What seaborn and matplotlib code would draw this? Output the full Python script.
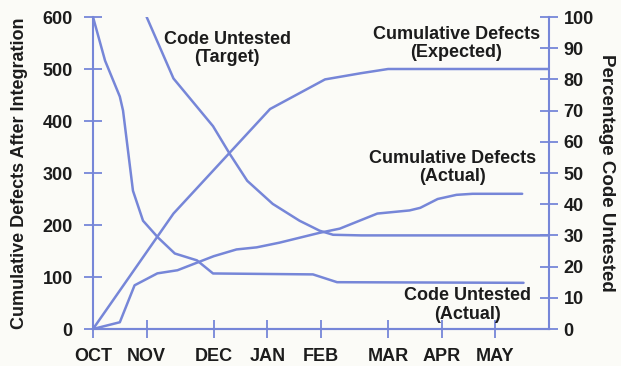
import numpy as np
import pandas as pd
import matplotlib
matplotlib.use('Agg')
import matplotlib.pyplot as plt
import seaborn as sns

# 데이터 (x축은 10월 시작부터의 주 단위)
month_labels = ['OCT', 'NOV', 'DEC', 'JAN', 'FEB', 'MAR', 'APR', 'MAY']
month_weeks = [0, 4, 9, 13, 17, 22, 26, 30]

# 누적 결함 (예상) - 왼쪽 축
expected_wk = [0, 6.0, 13.2, 17.3, 20.0, 22.0, 34]
expected_val = [0, 222, 423, 480, 492, 500, 500]

# 누적 결함 (실제) - 왼쪽 축
actual_wk = [0, 2.0, 3.1, 4.8, 6.3, 7.8, 9.0, 10.7, 12.2, 13.9, 16.9, 18.4,
             21.2, 23.6, 24.4, 25.7, 27.1, 28.3, 32.0]
actual_val = [0, 13, 84, 107, 113, 128, 140, 153, 157, 166, 185, 193,
              222, 228, 233, 250, 258, 260, 260]

# 미검증 코드 비율 (실제) - 오른쪽 축
cu_actual_wk = [0, 0.9, 2.0, 2.24, 2.98, 3.73, 4.85, 6.1, 7.75, 8.95, 16.4, 18.2, 32.1]
cu_actual_pct = [100, 86, 74.5, 70, 44.3, 34.7, 29.3, 24.2, 22, 17.8, 17.5, 15, 14.8]

# 미검증 코드 비율 (목표) - 오른쪽 축
cu_target_wk = [4.0, 6.0, 8.95, 10.2, 11.5, 13.4, 15.4, 16.9, 17.9, 20, 34]
cu_target_pct = [100, 80.3, 65.0, 56.1, 47.5, 40.1, 34.7, 31.5, 30.2, 30, 30]

# 스타일
sns.set_style('ticks')
plt.rcParams['font.family'] = ['Liberation Sans', 'DejaVu Sans']

blue = '#7686d8'
ink = '#1c1c1c'
bg = '#fbfbf7'
lw = 1.8

fig = plt.figure(figsize=(6.21, 3.66), dpi=100, facecolor=bg)
ax = fig.add_axes([93 / 621, 37 / 366, 456 / 621, 312 / 366])
ax.set_facecolor(bg)
ax2 = ax.twinx()

sns.lineplot(x=expected_wk, y=expected_val, ax=ax, color=blue, linewidth=lw)
sns.lineplot(x=actual_wk, y=actual_val, ax=ax, color=blue, linewidth=lw)
sns.lineplot(x=cu_actual_wk, y=cu_actual_pct, ax=ax2, color=blue, linewidth=lw)
sns.lineplot(x=cu_target_wk, y=cu_target_pct, ax=ax2, color=blue, linewidth=lw)

ax.set_xlim(0, 34)
ax.set_ylim(0, 600)
ax2.set_ylim(0, 100)

ax.set_xticks(month_weeks)
ax.set_xticklabels(month_labels)
ax.set_yticks(range(0, 601, 100))
ax2.set_yticks(range(0, 101, 10))

for a in (ax, ax2):
    a.spines['top'].set_visible(False)
    for s in ('left', 'right', 'bottom'):
        a.spines[s].set_color(blue)
        a.spines[s].set_linewidth(1.5)
    a.tick_params(direction='inout', length=13, width=1.3, color=blue,
                  labelsize=13, labelcolor=ink, pad=3)
    for lbl in a.get_xticklabels() + a.get_yticklabels():
        lbl.set_fontweight('bold')
ax.spines['right'].set_visible(False)
ax2.spines['left'].set_visible(False)
ax.tick_params(axis='y', pad=8)
ax.tick_params(axis='x', pad=7)
ax2.tick_params(axis='y', pad=4)

ax.set_xlabel('')
ax.set_ylabel('Cumulative Defects After Integration', fontsize=13,
              fontweight='bold', color=ink)
ax.yaxis.set_label_coords(-0.142, 0.5)
ax2.set_ylabel('Percentage Code Untested', fontsize=13.5, fontweight='bold',
               color=ink, rotation=270, va='center')
ax2.yaxis.set_label_coords(1.127, 0.5)

# 곡선 이름 표시
txt = dict(ha='center', va='center', fontsize=13, fontweight='bold',
           color=ink, linespacing=1.1)
ax.text(10.0, 539, 'Code Untested\n(Target)', **txt)
ax.text(27.1, 549, 'Cumulative Defects\n(Expected)', **txt)
ax.text(26.8, 310, 'Cumulative Defects\n(Actual)', **txt)
ax.text(27.9, 46, 'Code Untested\n(Actual)', **txt)

fig.savefig('out.png', dpi=100, facecolor=bg)
